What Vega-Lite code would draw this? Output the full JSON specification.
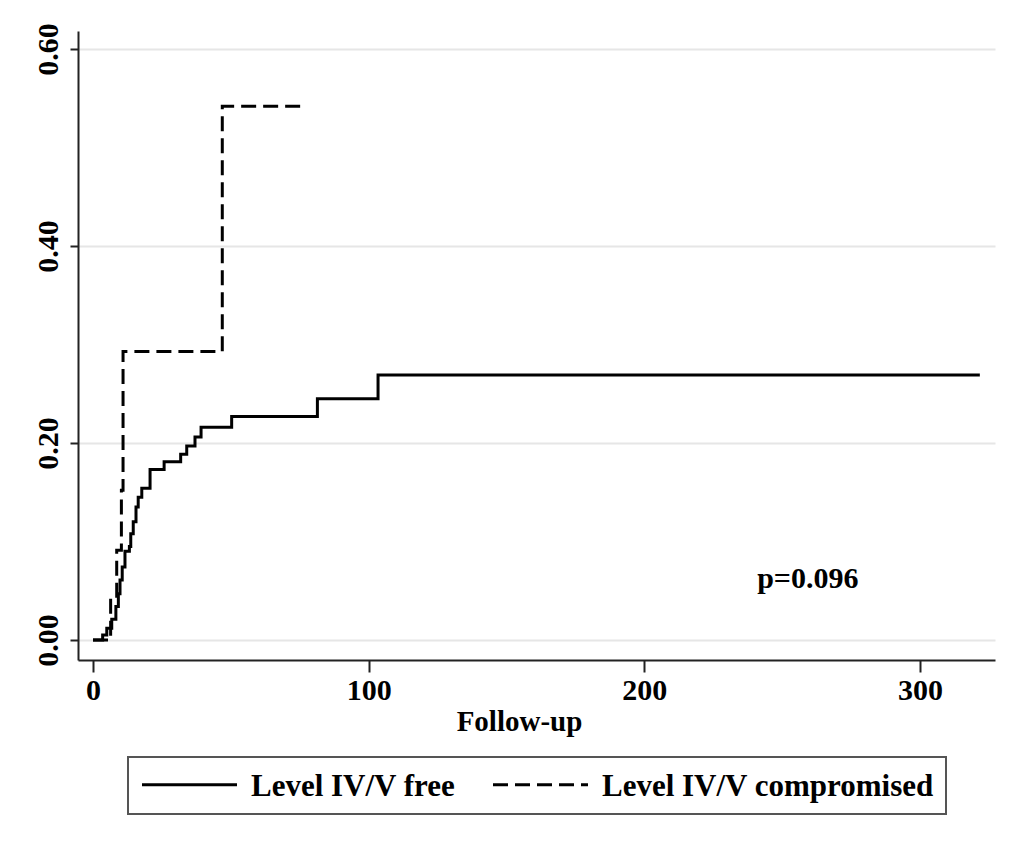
{
  "$schema": "https://vega.github.io/schema/vega-lite/v6.json",
  "width": 917,
  "height": 629,
  "autosize": {"type": "none"},
  "padding": {"left": 78, "top": 31, "right": 29, "bottom": 192},
  "background": "white",
  "config": {"view": {"stroke": null}, "font": "Liberation Serif"},
  "datasets": {
    "curves": [
      {"group": "Level IV/V free", "t": 0, "v": 0},
      {"group": "Level IV/V free", "t": 3.5, "v": 0.005},
      {"group": "Level IV/V free", "t": 5.0, "v": 0.012},
      {"group": "Level IV/V free", "t": 6.8, "v": 0.021},
      {"group": "Level IV/V free", "t": 8.3, "v": 0.034},
      {"group": "Level IV/V free", "t": 9.2, "v": 0.047},
      {"group": "Level IV/V free", "t": 9.8, "v": 0.061},
      {"group": "Level IV/V free", "t": 10.6, "v": 0.074},
      {"group": "Level IV/V free", "t": 11.6, "v": 0.090},
      {"group": "Level IV/V free", "t": 13.2, "v": 0.095},
      {"group": "Level IV/V free", "t": 13.7, "v": 0.108},
      {"group": "Level IV/V free", "t": 14.6, "v": 0.120},
      {"group": "Level IV/V free", "t": 15.6, "v": 0.135},
      {"group": "Level IV/V free", "t": 16.4, "v": 0.145},
      {"group": "Level IV/V free", "t": 17.7, "v": 0.154},
      {"group": "Level IV/V free", "t": 20.7, "v": 0.173},
      {"group": "Level IV/V free", "t": 25.8, "v": 0.181},
      {"group": "Level IV/V free", "t": 31.8, "v": 0.1885},
      {"group": "Level IV/V free", "t": 34.0, "v": 0.197},
      {"group": "Level IV/V free", "t": 37.0, "v": 0.206},
      {"group": "Level IV/V free", "t": 39.2, "v": 0.216},
      {"group": "Level IV/V free", "t": 50.3, "v": 0.227},
      {"group": "Level IV/V free", "t": 81.4, "v": 0.245},
      {"group": "Level IV/V free", "t": 103.4, "v": 0.269},
      {"group": "Level IV/V free", "t": 321.7, "v": 0.269},
      {"group": "Level IV/V compromised", "t": 0, "v": 0},
      {"group": "Level IV/V compromised", "t": 6.4, "v": 0.042},
      {"group": "Level IV/V compromised", "t": 8.6, "v": 0.091},
      {"group": "Level IV/V compromised", "t": 10.3, "v": 0.152},
      {"group": "Level IV/V compromised", "t": 10.9, "v": 0.293},
      {"group": "Level IV/V compromised", "t": 46.9, "v": 0.542},
      {"group": "Level IV/V compromised", "t": 75.7, "v": 0.542}
    ],
    "annot": [{"t": 259.3, "v": 0.053, "label": "p=0.096"}]
  },
  "layer": [
    {
      "data": {"name": "curves"},
      "mark": {"type": "line", "interpolate": "step-after", "strokeWidth": 3, "color": "black", "strokeCap": "butt"},
      "encoding": {
        "x": {
          "field": "t", "type": "quantitative",
          "scale": {"domain": [-5.44, 327.2], "nice": false, "zero": false},
          "axis": {
            "values": [0, 100, 200, 300], "format": "d", "grid": false,
            "domainColor": "#222", "domainWidth": 2, "tickColor": "#222", "tickWidth": 2, "tickSize": 12,
            "labelFont": "Liberation Serif", "labelFontSize": 30, "labelFontWeight": "bold", "labelColor": "black",
            "labelPadding": 3, "labelFlush": false, "labelOverlap": false,
            "title": "Follow-up", "titleFont": "Liberation Serif", "titleFontSize": 29, "titleFontWeight": "bold",
            "titleColor": "black", "titlePadding": 2, "titleX": 441
          }
        },
        "y": {
          "field": "v", "type": "quantitative",
          "scale": {"domain": [-0.0203, 0.6183], "nice": false, "zero": false},
          "axis": {
            "values": [0, 0.2, 0.4, 0.6], "format": ".2f", "grid": true, "gridColor": "#e6e6e6", "gridWidth": 2,
            "domainColor": "#222", "domainWidth": 2, "tickColor": "#222", "tickWidth": 2, "tickSize": 8,
            "labelFont": "Liberation Serif", "labelFontSize": 30, "labelFontWeight": "bold", "labelColor": "black",
            "labelAngle": -90, "labelAlign": "center", "labelBaseline": "alphabetic", "labelPadding": 13,
            "labelFlush": false, "labelOverlap": false, "title": null
          }
        },
        "strokeDash": {
          "field": "group", "type": "nominal",
          "scale": {"domain": ["Level IV/V free", "Level IV/V compromised"], "range": [[1, 0], [15, 7]]},
          "legend": {
            "title": null, "orient": "none", "legendX": 50, "legendY": 726, "direction": "horizontal",
            "symbolType": "M-4,0H4", "symbolSize": 564, "symbolStrokeWidth": 3, "symbolStrokeColor": "black",
            "symbolOffset": 34,
            "labelFont": "Liberation Serif", "labelFontSize": 31, "labelFontWeight": "bold", "labelColor": "black",
            "labelOffset": 46, "columnPadding": 31, "padding": 12, "strokeColor": "#555",
            "labelLimit": 600,
            "encode": {
              "legend": {"update": {"strokeWidth": {"value": 2}}},
              "labels": {"update": {"dy": {"value": 2}}},
              "symbols": {"update": {"strokeDash": {"signal": "datum.value === 'Level IV/V compromised' ? [12, 7] : [1, 0]"}}}
            }
          }
        }
      }
    },
    {
      "data": {"name": "annot"},
      "mark": {"type": "text", "fontSize": 30, "fontWeight": "bold", "font": "Liberation Serif", "align": "center", "baseline": "alphabetic", "color": "black"},
      "encoding": {
        "x": {"field": "t", "type": "quantitative"},
        "y": {"field": "v", "type": "quantitative"},
        "text": {"field": "label"}
      }
    }
  ]
}
